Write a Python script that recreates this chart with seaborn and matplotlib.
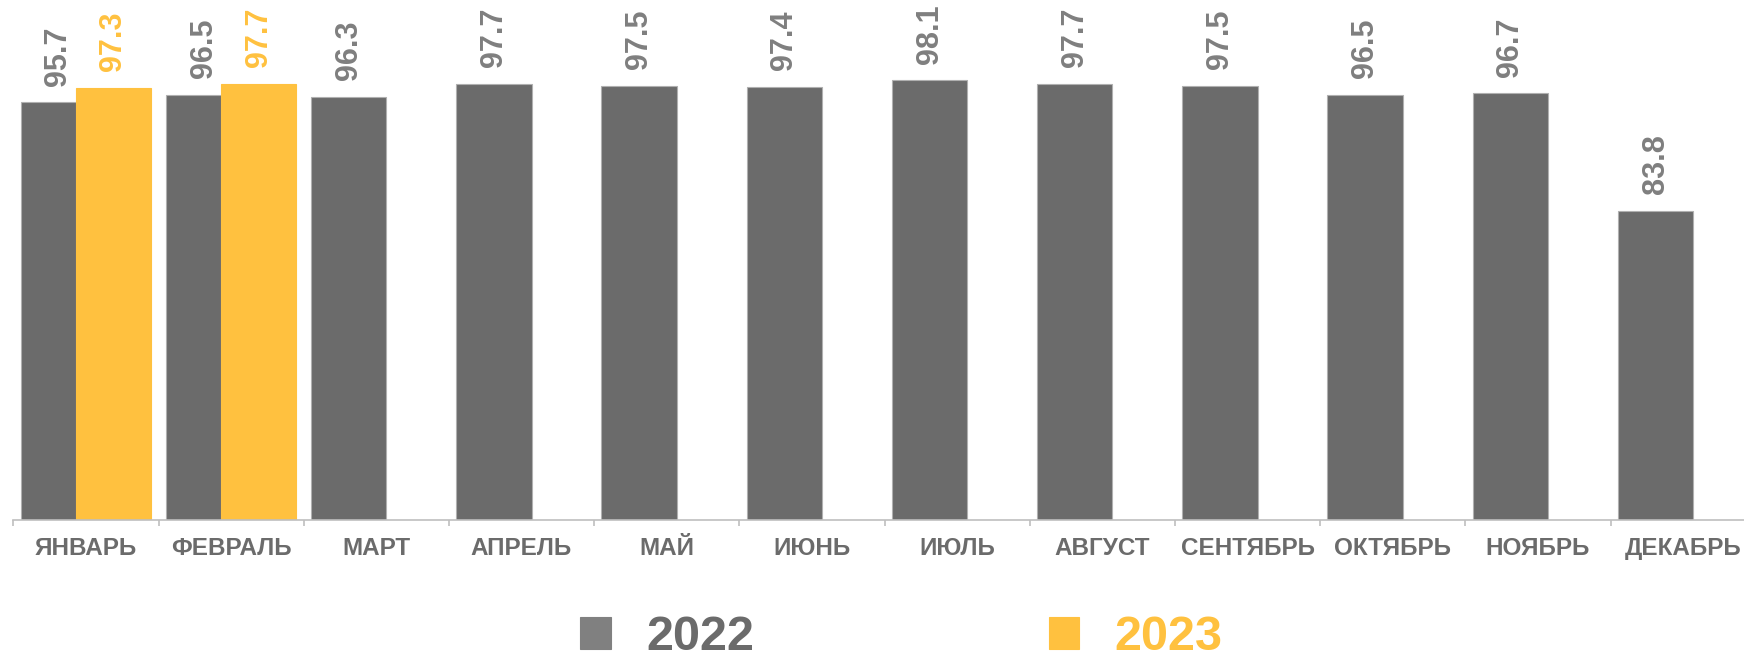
import numpy as np
import pandas as pd
import matplotlib
matplotlib.use("Agg")
import matplotlib.pyplot as plt
import seaborn as sns

# ── data ─────────────────────────────────────────────────────────────────────
months = ["ЯНВАРЬ", "ФЕВРАЛЬ", "МАРТ", "АПРЕЛЬ", "МАЙ", "ИЮНЬ",
          "ИЮЛЬ", "АВГУСТ", "СЕНТЯБРЬ", "ОКТЯБРЬ", "НОЯБРЬ", "ДЕКАБРЬ"]
values_2022 = [95.7, 96.5, 96.3, 97.7, 97.5, 97.4, 98.1, 97.7, 97.5, 96.5, 96.7, 83.8]
values_2023 = [97.3, 97.7]
years = ["2022", "2023"]

GRAY = "#6b6b6b"
GRAY_LABEL = "#7f7f7f"
GRAY_LEGEND = "#808080"
YELLOW = "#FFC13F"

rows = []
for m, v in zip(months, values_2022):
    rows.append({"month": m, "year": years[0], "value": v})
for m, v in zip(months, values_2023):
    rows.append({"month": m, "year": years[1], "value": v})
df = pd.DataFrame(rows)

# ── figure ───────────────────────────────────────────────────────────────────
sns.set_theme(style="white")
plt.rcParams["font.family"] = ["Liberation Sans", "DejaVu Sans"]

fig = plt.figure(figsize=(17.44, 6.53), dpi=100)
ax = fig.add_axes([0.00763, 0.2037, 0.99908, 0.7963])

sns.barplot(
    data=df, x="month", y="value", hue="year",
    order=months, hue_order=years,
    palette=[GRAY, YELLOW], saturation=1,
    width=0.76, gap=-0.365,          # bars of a pair overlap a little
    edgecolor="#b0b0b0", linewidth=0.8,
    errorbar=None, ax=ax,
)

# yellow bars without the gray outline
for p in ax.containers[1]:
    p.set_edgecolor(YELLOW)

# value labels, rotated
for cont, col in zip(ax.containers, [GRAY_LABEL, YELLOW]):
    labels = ["" if np.isnan(v) else f"{v:.1f}" for v in cont.datavalues]
    ax.bar_label(cont, labels=labels, rotation=90, padding=12,
                 fontsize=22, fontweight="bold", color=col)

ax.set_ylim(50, 106.9)
ax.set_xlim(-0.5, len(months) - 0.5)
ax.set_xlabel("")
ax.set_ylabel("")
ax.set_yticks([])

for s in ["top", "right", "left"]:
    ax.spines[s].set_visible(False)
ax.spines["bottom"].set_color("#bfbfbf")
ax.spines["bottom"].set_linewidth(1.2)

ax.set_xticks(np.arange(-0.5, len(months)), minor=True)
ax.tick_params(axis="x", which="major", length=0, pad=12,
               labelsize=17.5, labelcolor="#6b6b6b")
ax.tick_params(axis="x", which="minor", length=4.5, width=1.2,
               color="#bfbfbf", direction="out", bottom=True)
for t in ax.get_xticklabels():
    t.set_fontweight("bold")

# legend at the bottom
sns.move_legend(
    ax, "upper center", bbox_to_anchor=(0.5170, 0.058),
    bbox_transform=fig.transFigure,
    ncol=2, frameon=False, title=None,
    prop={"family": "Liberation Sans", "weight": "bold", "size": 35},
    handlelength=0.62, handleheight=0.62, handletextpad=0.74,
    columnspacing=6.05, borderpad=0, borderaxespad=0,
)
leg = ax.get_legend()
for h, c in zip(leg.legend_handles, [GRAY_LEGEND, YELLOW]):
    h.set_facecolor(c)
    h.set_edgecolor(c)
for t, c in zip(leg.get_texts(), [GRAY, YELLOW]):
    t.set_color(c)

fig.savefig("out.png", dpi=100)
